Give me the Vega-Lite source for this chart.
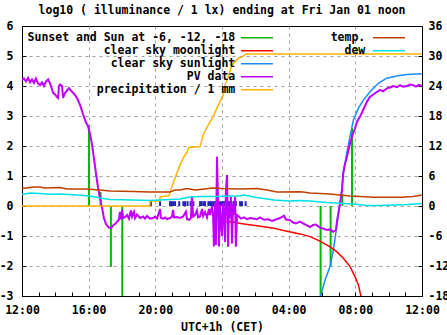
{
  "$schema": "https://vega.github.io/schema/vega-lite/v6.json",
  "width": 400,
  "height": 270,
  "autosize": {"type": "none"},
  "padding": {"left": 22, "top": 26, "right": 25, "bottom": 39},
  "background": "white",
  "title": {"text": "log10 ( illuminance / 1 lx) ending at Fri Jan 01 noon", "font": "DejaVu Sans Mono", "fontSize": 11.5, "fontWeight": "bold", "color": "black", "anchor": "middle", "baseline": "alphabetic", "offset": 9, "dy": 14},
  "datasets": {
    "illum": [
      {"t": "2020-12-31T12:00", "v": 4.2, "s": "PV data"},
      {"t": "2020-12-31T12:07", "v": 4.25, "s": "PV data"},
      {"t": "2020-12-31T12:14", "v": 4.15, "s": "PV data"},
      {"t": "2020-12-31T12:22", "v": 4.27, "s": "PV data"},
      {"t": "2020-12-31T12:29", "v": 4.12, "s": "PV data"},
      {"t": "2020-12-31T12:36", "v": 4.22, "s": "PV data"},
      {"t": "2020-12-31T12:43", "v": 4.1, "s": "PV data"},
      {"t": "2020-12-31T12:50", "v": 4.25, "s": "PV data"},
      {"t": "2020-12-31T12:58", "v": 4.08, "s": "PV data"},
      {"t": "2020-12-31T13:05", "v": 4.03, "s": "PV data"},
      {"t": "2020-12-31T13:12", "v": 4.12, "s": "PV data"},
      {"t": "2020-12-31T13:19", "v": 4.0, "s": "PV data"},
      {"t": "2020-12-31T13:26", "v": 4.15, "s": "PV data"},
      {"t": "2020-12-31T13:34", "v": 4.22, "s": "PV data"},
      {"t": "2020-12-31T13:41", "v": 4.08, "s": "PV data"},
      {"t": "2020-12-31T13:48", "v": 3.9, "s": "PV data"},
      {"t": "2020-12-31T13:52", "v": 3.77, "s": "PV data"},
      {"t": "2020-12-31T13:59", "v": 3.72, "s": "PV data"},
      {"t": "2020-12-31T14:06", "v": 3.63, "s": "PV data"},
      {"t": "2020-12-31T14:10", "v": 3.6, "s": "PV data"},
      {"t": "2020-12-31T14:13", "v": 4.0, "s": "PV data"},
      {"t": "2020-12-31T14:17", "v": 4.05, "s": "PV data"},
      {"t": "2020-12-31T14:24", "v": 4.0, "s": "PV data"},
      {"t": "2020-12-31T14:28", "v": 3.6, "s": "PV data"},
      {"t": "2020-12-31T14:35", "v": 3.77, "s": "PV data"},
      {"t": "2020-12-31T14:42", "v": 3.85, "s": "PV data"},
      {"t": "2020-12-31T14:49", "v": 3.93, "s": "PV data"},
      {"t": "2020-12-31T14:56", "v": 3.85, "s": "PV data"},
      {"t": "2020-12-31T15:04", "v": 3.77, "s": "PV data"},
      {"t": "2020-12-31T15:11", "v": 3.7, "s": "PV data"},
      {"t": "2020-12-31T15:18", "v": 3.6, "s": "PV data"},
      {"t": "2020-12-31T15:29", "v": 3.37, "s": "PV data"},
      {"t": "2020-12-31T15:40", "v": 3.05, "s": "PV data"},
      {"t": "2020-12-31T15:50", "v": 2.8, "s": "PV data"},
      {"t": "2020-12-31T15:58", "v": 2.65, "s": "PV data"},
      {"t": "2020-12-31T16:05", "v": 2.4, "s": "PV data"},
      {"t": "2020-12-31T16:12", "v": 2.05, "s": "PV data"},
      {"t": "2020-12-31T16:19", "v": 1.6, "s": "PV data"},
      {"t": "2020-12-31T16:26", "v": 1.1, "s": "PV data"},
      {"t": "2020-12-31T16:34", "v": 0.6, "s": "PV data"},
      {"t": "2020-12-31T16:41", "v": 0.25, "s": "PV data"},
      {"t": "2020-12-31T16:48", "v": -0.05, "s": "PV data"},
      {"t": "2020-12-31T16:55", "v": -0.4, "s": "PV data"},
      {"t": "2020-12-31T17:02", "v": -0.6, "s": "PV data"},
      {"t": "2020-12-31T17:13", "v": -0.72, "s": "PV data"},
      {"t": "2020-12-31T17:20", "v": -0.74, "s": "PV data"},
      {"t": "2020-12-31T17:28", "v": -0.65, "s": "PV data"},
      {"t": "2020-12-31T17:35", "v": -0.6, "s": "PV data"},
      {"t": "2020-12-31T17:42", "v": -0.53, "s": "PV data"},
      {"t": "2020-12-31T17:49", "v": -0.45, "s": "PV data"},
      {"t": "2020-12-31T17:53", "v": -0.2, "s": "PV data"},
      {"t": "2020-12-31T17:56", "v": -0.45, "s": "PV data"},
      {"t": "2020-12-31T18:00", "v": -0.13, "s": "PV data"},
      {"t": "2020-12-31T18:04", "v": -0.4, "s": "PV data"},
      {"t": "2020-12-31T18:11", "v": -0.37, "s": "PV data"},
      {"t": "2020-12-31T18:18", "v": -0.3, "s": "PV data"},
      {"t": "2020-12-31T18:25", "v": -0.42, "s": "PV data"},
      {"t": "2020-12-31T18:32", "v": -0.15, "s": "PV data"},
      {"t": "2020-12-31T18:36", "v": -0.35, "s": "PV data"},
      {"t": "2020-12-31T18:43", "v": -0.2, "s": "PV data"},
      {"t": "2020-12-31T18:47", "v": -0.4, "s": "PV data"},
      {"t": "2020-12-31T18:54", "v": -0.28, "s": "PV data"},
      {"t": "2020-12-31T19:05", "v": -0.4, "s": "PV data"},
      {"t": "2020-12-31T19:16", "v": -0.35, "s": "PV data"},
      {"t": "2020-12-31T19:23", "v": -0.42, "s": "PV data"},
      {"t": "2020-12-31T19:30", "v": -0.33, "s": "PV data"},
      {"t": "2020-12-31T19:41", "v": -0.42, "s": "PV data"},
      {"t": "2020-12-31T19:52", "v": -0.4, "s": "PV data"},
      {"t": "2020-12-31T19:59", "v": -0.35, "s": "PV data"},
      {"t": "2020-12-31T20:06", "v": -0.42, "s": "PV data"},
      {"t": "2020-12-31T20:17", "v": -0.1, "s": "PV data"},
      {"t": "2020-12-31T20:20", "v": -0.4, "s": "PV data"},
      {"t": "2020-12-31T20:28", "v": -0.42, "s": "PV data"},
      {"t": "2020-12-31T20:35", "v": -0.38, "s": "PV data"},
      {"t": "2020-12-31T20:42", "v": -0.44, "s": "PV data"},
      {"t": "2020-12-31T20:53", "v": -0.4, "s": "PV data"},
      {"t": "2020-12-31T21:00", "v": -0.35, "s": "PV data"},
      {"t": "2020-12-31T21:04", "v": -0.13, "s": "PV data"},
      {"t": "2020-12-31T21:07", "v": -0.38, "s": "PV data"},
      {"t": "2020-12-31T21:18", "v": -0.37, "s": "PV data"},
      {"t": "2020-12-31T21:29", "v": -0.4, "s": "PV data"},
      {"t": "2020-12-31T21:40", "v": -0.35, "s": "PV data"},
      {"t": "2020-12-31T21:50", "v": -0.19, "s": "PV data"},
      {"t": "2020-12-31T21:54", "v": -0.44, "s": "PV data"},
      {"t": "2020-12-31T22:01", "v": -0.46, "s": "PV data"},
      {"t": "2020-12-31T22:08", "v": -0.4, "s": "PV data"},
      {"t": "2020-12-31T22:12", "v": 0.32, "s": "PV data"},
      {"t": "2020-12-31T22:16", "v": -0.35, "s": "PV data"},
      {"t": "2020-12-31T22:23", "v": -0.3, "s": "PV data"},
      {"t": "2020-12-31T22:30", "v": -0.15, "s": "PV data"},
      {"t": "2020-12-31T22:34", "v": -0.38, "s": "PV data"},
      {"t": "2020-12-31T22:41", "v": -0.35, "s": "PV data"},
      {"t": "2020-12-31T22:48", "v": -0.1, "s": "PV data"},
      {"t": "2020-12-31T22:52", "v": -0.33, "s": "PV data"},
      {"t": "2020-12-31T22:59", "v": -0.2, "s": "PV data"},
      {"t": "2020-12-31T23:06", "v": -0.38, "s": "PV data"},
      {"t": "2020-12-31T23:13", "v": -0.1, "s": "PV data"},
      {"t": "2020-12-31T23:17", "v": -0.3, "s": "PV data"},
      {"t": "2020-12-31T23:24", "v": 0.0, "s": "PV data"},
      {"t": "2020-12-31T23:28", "v": -0.35, "s": "PV data"},
      {"t": "2020-12-31T23:31", "v": -1.35, "s": "PV data"},
      {"t": "2020-12-31T23:35", "v": 0.1, "s": "PV data"},
      {"t": "2020-12-31T23:38", "v": -1.3, "s": "PV data"},
      {"t": "2020-12-31T23:42", "v": 1.64, "s": "PV data"},
      {"t": "2020-12-31T23:46", "v": 0.0, "s": "PV data"},
      {"t": "2020-12-31T23:49", "v": -1.35, "s": "PV data"},
      {"t": "2020-12-31T23:53", "v": 0.05, "s": "PV data"},
      {"t": "2020-12-31T23:56", "v": -0.5, "s": "PV data"},
      {"t": "2021-01-01T00:00", "v": -1.0, "s": "PV data"},
      {"t": "2021-01-01T00:04", "v": 0.1, "s": "PV data"},
      {"t": "2021-01-01T00:07", "v": -0.2, "s": "PV data"},
      {"t": "2021-01-01T00:11", "v": -1.2, "s": "PV data"},
      {"t": "2021-01-01T00:14", "v": 0.5, "s": "PV data"},
      {"t": "2021-01-01T00:18", "v": 1.03, "s": "PV data"},
      {"t": "2021-01-01T00:22", "v": -1.36, "s": "PV data"},
      {"t": "2021-01-01T00:25", "v": 0.0, "s": "PV data"},
      {"t": "2021-01-01T00:29", "v": -0.4, "s": "PV data"},
      {"t": "2021-01-01T00:32", "v": 0.3, "s": "PV data"},
      {"t": "2021-01-01T00:36", "v": -1.25, "s": "PV data"},
      {"t": "2021-01-01T00:40", "v": 0.05, "s": "PV data"},
      {"t": "2021-01-01T00:43", "v": -0.3, "s": "PV data"},
      {"t": "2021-01-01T00:47", "v": 0.3, "s": "PV data"},
      {"t": "2021-01-01T00:50", "v": -1.36, "s": "PV data"},
      {"t": "2021-01-01T00:54", "v": -0.3, "s": "PV data"},
      {"t": "2021-01-01T01:01", "v": -0.35, "s": "PV data"},
      {"t": "2021-01-01T01:08", "v": -0.42, "s": "PV data"},
      {"t": "2021-01-01T01:19", "v": -0.38, "s": "PV data"},
      {"t": "2021-01-01T01:30", "v": -0.44, "s": "PV data"},
      {"t": "2021-01-01T01:41", "v": -0.4, "s": "PV data"},
      {"t": "2021-01-01T01:52", "v": -0.42, "s": "PV data"},
      {"t": "2021-01-01T02:06", "v": -0.44, "s": "PV data"},
      {"t": "2021-01-01T02:17", "v": -0.38, "s": "PV data"},
      {"t": "2021-01-01T02:31", "v": -0.46, "s": "PV data"},
      {"t": "2021-01-01T02:46", "v": -0.44, "s": "PV data"},
      {"t": "2021-01-01T03:00", "v": -0.5, "s": "PV data"},
      {"t": "2021-01-01T03:14", "v": -0.45, "s": "PV data"},
      {"t": "2021-01-01T03:29", "v": -0.4, "s": "PV data"},
      {"t": "2021-01-01T03:43", "v": -0.32, "s": "PV data"},
      {"t": "2021-01-01T03:50", "v": -0.45, "s": "PV data"},
      {"t": "2021-01-01T04:05", "v": -0.47, "s": "PV data"},
      {"t": "2021-01-01T04:16", "v": -0.55, "s": "PV data"},
      {"t": "2021-01-01T04:26", "v": -0.58, "s": "PV data"},
      {"t": "2021-01-01T04:41", "v": -0.52, "s": "PV data"},
      {"t": "2021-01-01T04:52", "v": -0.58, "s": "PV data"},
      {"t": "2021-01-01T05:02", "v": -0.63, "s": "PV data"},
      {"t": "2021-01-01T05:17", "v": -0.7, "s": "PV data"},
      {"t": "2021-01-01T05:28", "v": -0.63, "s": "PV data"},
      {"t": "2021-01-01T05:38", "v": -0.62, "s": "PV data"},
      {"t": "2021-01-01T05:53", "v": -0.72, "s": "PV data"},
      {"t": "2021-01-01T06:04", "v": -0.75, "s": "PV data"},
      {"t": "2021-01-01T06:18", "v": -0.8, "s": "PV data"},
      {"t": "2021-01-01T06:29", "v": -0.78, "s": "PV data"},
      {"t": "2021-01-01T06:40", "v": -0.86, "s": "PV data"},
      {"t": "2021-01-01T06:50", "v": -0.8, "s": "PV data"},
      {"t": "2021-01-01T06:54", "v": -0.5, "s": "PV data"},
      {"t": "2021-01-01T07:01", "v": -0.13, "s": "PV data"},
      {"t": "2021-01-01T07:07", "v": 0.2, "s": "PV data"},
      {"t": "2021-01-01T07:12", "v": 0.53, "s": "PV data"},
      {"t": "2021-01-01T07:16", "v": 1.09, "s": "PV data"},
      {"t": "2021-01-01T07:23", "v": 1.42, "s": "PV data"},
      {"t": "2021-01-01T07:30", "v": 1.64, "s": "PV data"},
      {"t": "2021-01-01T07:41", "v": 2.09, "s": "PV data"},
      {"t": "2021-01-01T07:52", "v": 2.42, "s": "PV data"},
      {"t": "2021-01-01T07:59", "v": 2.59, "s": "PV data"},
      {"t": "2021-01-01T08:06", "v": 2.81, "s": "PV data"},
      {"t": "2021-01-01T08:17", "v": 2.98, "s": "PV data"},
      {"t": "2021-01-01T08:28", "v": 3.2, "s": "PV data"},
      {"t": "2021-01-01T08:42", "v": 3.48, "s": "PV data"},
      {"t": "2021-01-01T08:53", "v": 3.64, "s": "PV data"},
      {"t": "2021-01-01T09:11", "v": 3.76, "s": "PV data"},
      {"t": "2021-01-01T09:29", "v": 3.87, "s": "PV data"},
      {"t": "2021-01-01T09:40", "v": 3.82, "s": "PV data"},
      {"t": "2021-01-01T09:54", "v": 3.92, "s": "PV data"},
      {"t": "2021-01-01T10:05", "v": 3.95, "s": "PV data"},
      {"t": "2021-01-01T10:16", "v": 4.0, "s": "PV data"},
      {"t": "2021-01-01T10:30", "v": 3.96, "s": "PV data"},
      {"t": "2021-01-01T10:41", "v": 4.03, "s": "PV data"},
      {"t": "2021-01-01T10:52", "v": 3.98, "s": "PV data"},
      {"t": "2021-01-01T11:06", "v": 4.0, "s": "PV data"},
      {"t": "2021-01-01T11:17", "v": 4.05, "s": "PV data"},
      {"t": "2021-01-01T11:28", "v": 4.03, "s": "PV data"},
      {"t": "2021-01-01T11:38", "v": 3.98, "s": "PV data"},
      {"t": "2021-01-01T11:49", "v": 4.04, "s": "PV data"},
      {"t": "2021-01-01T12:00", "v": 4.0, "s": "PV data"},

      {"t": "2021-01-01T05:55", "v": -3.0, "s": "clear sky sunlight"},
      {"t": "2021-01-01T06:11", "v": -2.47, "s": "clear sky sunlight"},
      {"t": "2021-01-01T06:29", "v": -2.02, "s": "clear sky sunlight"},
      {"t": "2021-01-01T06:41", "v": -1.47, "s": "clear sky sunlight"},
      {"t": "2021-01-01T06:53", "v": -0.69, "s": "clear sky sunlight"},
      {"t": "2021-01-01T07:03", "v": -0.02, "s": "clear sky sunlight"},
      {"t": "2021-01-01T07:11", "v": 0.53, "s": "clear sky sunlight"},
      {"t": "2021-01-01T07:19", "v": 1.2, "s": "clear sky sunlight"},
      {"t": "2021-01-01T07:29", "v": 1.76, "s": "clear sky sunlight"},
      {"t": "2021-01-01T07:41", "v": 2.31, "s": "clear sky sunlight"},
      {"t": "2021-01-01T07:53", "v": 2.87, "s": "clear sky sunlight"},
      {"t": "2021-01-01T08:11", "v": 3.26, "s": "clear sky sunlight"},
      {"t": "2021-01-01T08:29", "v": 3.53, "s": "clear sky sunlight"},
      {"t": "2021-01-01T08:53", "v": 3.81, "s": "clear sky sunlight"},
      {"t": "2021-01-01T09:23", "v": 4.09, "s": "clear sky sunlight"},
      {"t": "2021-01-01T09:53", "v": 4.26, "s": "clear sky sunlight"},
      {"t": "2021-01-01T10:29", "v": 4.33, "s": "clear sky sunlight"},
      {"t": "2021-01-01T11:05", "v": 4.38, "s": "clear sky sunlight"},
      {"t": "2021-01-01T12:00", "v": 4.41, "s": "clear sky sunlight"},

      {"t": "2020-12-31T23:53", "v": -0.48, "s": "clear sky moonlight"},
      {"t": "2021-01-01T00:07", "v": -0.5, "s": "clear sky moonlight"},
      {"t": "2021-01-01T00:43", "v": -0.54, "s": "clear sky moonlight"},
      {"t": "2021-01-01T01:19", "v": -0.6, "s": "clear sky moonlight"},
      {"t": "2021-01-01T02:06", "v": -0.66, "s": "clear sky moonlight"},
      {"t": "2021-01-01T03:07", "v": -0.74, "s": "clear sky moonlight"},
      {"t": "2021-01-01T03:54", "v": -0.84, "s": "clear sky moonlight"},
      {"t": "2021-01-01T04:41", "v": -0.93, "s": "clear sky moonlight"},
      {"t": "2021-01-01T05:17", "v": -1.02, "s": "clear sky moonlight"},
      {"t": "2021-01-01T05:53", "v": -1.17, "s": "clear sky moonlight"},
      {"t": "2021-01-01T06:29", "v": -1.36, "s": "clear sky moonlight"},
      {"t": "2021-01-01T06:53", "v": -1.52, "s": "clear sky moonlight"},
      {"t": "2021-01-01T07:17", "v": -1.74, "s": "clear sky moonlight"},
      {"t": "2021-01-01T07:41", "v": -2.02, "s": "clear sky moonlight"},
      {"t": "2021-01-01T07:59", "v": -2.36, "s": "clear sky moonlight"},
      {"t": "2021-01-01T08:11", "v": -2.63, "s": "clear sky moonlight"},
      {"t": "2021-01-01T08:20", "v": -3.0, "s": "clear sky moonlight"},

      {"t": "2020-12-31T12:00", "v": 0.0, "s": "precipitation / 1 mm"},
      {"t": "2020-12-31T19:40", "v": 0.0, "s": "precipitation / 1 mm"},
      {"t": "2020-12-31T19:41", "v": 0.17, "s": "precipitation / 1 mm"},
      {"t": "2020-12-31T20:16", "v": 0.17, "s": "precipitation / 1 mm"},
      {"t": "2020-12-31T20:17", "v": 0.3, "s": "precipitation / 1 mm"},
      {"t": "2020-12-31T20:50", "v": 0.35, "s": "precipitation / 1 mm"},
      {"t": "2020-12-31T20:53", "v": 0.48, "s": "precipitation / 1 mm"},
      {"t": "2020-12-31T21:11", "v": 0.93, "s": "precipitation / 1 mm"},
      {"t": "2020-12-31T21:29", "v": 1.37, "s": "precipitation / 1 mm"},
      {"t": "2020-12-31T21:40", "v": 1.6, "s": "precipitation / 1 mm"},
      {"t": "2020-12-31T21:54", "v": 1.8, "s": "precipitation / 1 mm"},
      {"t": "2020-12-31T22:01", "v": 1.95, "s": "precipitation / 1 mm"},
      {"t": "2020-12-31T22:41", "v": 1.98, "s": "precipitation / 1 mm"},
      {"t": "2020-12-31T22:52", "v": 2.37, "s": "precipitation / 1 mm"},
      {"t": "2020-12-31T23:10", "v": 2.7, "s": "precipitation / 1 mm"},
      {"t": "2020-12-31T23:28", "v": 2.98, "s": "precipitation / 1 mm"},
      {"t": "2020-12-31T23:42", "v": 3.27, "s": "precipitation / 1 mm"},
      {"t": "2020-12-31T23:53", "v": 3.48, "s": "precipitation / 1 mm"},
      {"t": "2021-01-01T00:04", "v": 3.7, "s": "precipitation / 1 mm"},
      {"t": "2021-01-01T00:11", "v": 4.03, "s": "precipitation / 1 mm"},
      {"t": "2021-01-01T00:22", "v": 4.31, "s": "precipitation / 1 mm"},
      {"t": "2021-01-01T00:36", "v": 4.7, "s": "precipitation / 1 mm"},
      {"t": "2021-01-01T00:47", "v": 4.81, "s": "precipitation / 1 mm"},
      {"t": "2021-01-01T00:58", "v": 4.92, "s": "precipitation / 1 mm"},
      {"t": "2021-01-01T01:14", "v": 4.98, "s": "precipitation / 1 mm"},
      {"t": "2021-01-01T01:26", "v": 5.07, "s": "precipitation / 1 mm"},
      {"t": "2021-01-01T12:00", "v": 5.07, "s": "precipitation / 1 mm"}
    ],
    "sun": [
      {"t": "2020-12-31T16:01", "v": 2.7, "s": "Sunset and Sun at -6, -12, -18"},
      {"t": "2020-12-31T16:43", "v": 0.47, "s": "Sunset and Sun at -6, -12, -18"},
      {"t": "2020-12-31T17:20", "v": -2.03, "s": "Sunset and Sun at -6, -12, -18"},
      {"t": "2020-12-31T18:01", "v": -3.0, "s": "Sunset and Sun at -6, -12, -18"},
      {"t": "2021-01-01T05:55", "v": -3.0, "s": "Sunset and Sun at -6, -12, -18"},
      {"t": "2021-01-01T06:31", "v": -2.0, "s": "Sunset and Sun at -6, -12, -18"},
      {"t": "2021-01-01T07:13", "v": 0.4, "s": "Sunset and Sun at -6, -12, -18"},
      {"t": "2021-01-01T07:48", "v": 2.6, "s": "Sunset and Sun at -6, -12, -18"}
    ],
    "bars": [
      {"t": "2020-12-31T19:44", "v": 0.16}, {"t": "2020-12-31T20:17", "v": 0.16},
      {"t": "2020-12-31T20:53", "v": 0.16}, {"t": "2020-12-31T20:58", "v": 0.16},
      {"t": "2020-12-31T21:04", "v": 0.16}, {"t": "2020-12-31T21:11", "v": 0.16},
      {"t": "2020-12-31T21:26", "v": 0.16}, {"t": "2020-12-31T21:41", "v": 0.16},
      {"t": "2020-12-31T21:47", "v": 0.16}, {"t": "2020-12-31T21:56", "v": 0.16},
      {"t": "2020-12-31T22:07", "v": 0.16}, {"t": "2020-12-31T22:17", "v": 0.16},
      {"t": "2020-12-31T22:41", "v": 0.16}, {"t": "2020-12-31T22:46", "v": 0.16},
      {"t": "2020-12-31T22:53", "v": 0.16}, {"t": "2020-12-31T22:59", "v": 0.16},
      {"t": "2020-12-31T23:11", "v": 0.16}, {"t": "2020-12-31T23:17", "v": 0.16},
      {"t": "2020-12-31T23:23", "v": 0.16}, {"t": "2020-12-31T23:29", "v": 0.16},
      {"t": "2020-12-31T23:35", "v": 0.16}, {"t": "2020-12-31T23:41", "v": 0.16},
      {"t": "2020-12-31T23:47", "v": 0.16}, {"t": "2020-12-31T23:53", "v": 0.16},
      {"t": "2021-01-01T00:00", "v": 0.16}, {"t": "2021-01-01T00:05", "v": 0.16},
      {"t": "2021-01-01T00:11", "v": 0.16}, {"t": "2021-01-01T00:18", "v": 0.16},
      {"t": "2021-01-01T00:25", "v": 0.16}, {"t": "2021-01-01T00:32", "v": 0.16},
      {"t": "2021-01-01T00:41", "v": 0.16}, {"t": "2021-01-01T00:50", "v": 0.16},
      {"t": "2021-01-01T01:05", "v": 0.16}, {"t": "2021-01-01T01:12", "v": 0.16},
      {"t": "2021-01-01T01:25", "v": 0.16}
    ],
    "temps": [
      {"t": "2020-12-31T12:00", "c": 3.5, "s": "temp."},
      {"t": "2020-12-31T12:43", "c": 3.8, "s": "temp."},
      {"t": "2020-12-31T13:05", "c": 3.8, "s": "temp."},
      {"t": "2020-12-31T13:20", "c": 3.6, "s": "temp."},
      {"t": "2020-12-31T14:17", "c": 3.7, "s": "temp."},
      {"t": "2020-12-31T14:42", "c": 3.4, "s": "temp."},
      {"t": "2020-12-31T15:50", "c": 3.4, "s": "temp."},
      {"t": "2020-12-31T16:41", "c": 3.2, "s": "temp."},
      {"t": "2020-12-31T17:17", "c": 3.0, "s": "temp."},
      {"t": "2020-12-31T18:40", "c": 2.9, "s": "temp."},
      {"t": "2020-12-31T19:41", "c": 2.8, "s": "temp."},
      {"t": "2020-12-31T20:53", "c": 2.8, "s": "temp."},
      {"t": "2020-12-31T21:11", "c": 3.2, "s": "temp."},
      {"t": "2020-12-31T21:29", "c": 3.2, "s": "temp."},
      {"t": "2020-12-31T21:54", "c": 3.5, "s": "temp."},
      {"t": "2020-12-31T22:23", "c": 3.2, "s": "temp."},
      {"t": "2020-12-31T22:41", "c": 3.3, "s": "temp."},
      {"t": "2020-12-31T23:28", "c": 3.6, "s": "temp."},
      {"t": "2021-01-01T00:00", "c": 3.5, "s": "temp."},
      {"t": "2021-01-01T01:05", "c": 3.4, "s": "temp."},
      {"t": "2021-01-01T02:06", "c": 3.5, "s": "temp."},
      {"t": "2021-01-01T02:42", "c": 3.2, "s": "temp."},
      {"t": "2021-01-01T03:18", "c": 2.8, "s": "temp."},
      {"t": "2021-01-01T04:44", "c": 2.85, "s": "temp."},
      {"t": "2021-01-01T05:17", "c": 2.6, "s": "temp."},
      {"t": "2021-01-01T05:53", "c": 2.5, "s": "temp."},
      {"t": "2021-01-01T06:29", "c": 2.4, "s": "temp."},
      {"t": "2021-01-01T07:05", "c": 2.2, "s": "temp."},
      {"t": "2021-01-01T07:41", "c": 2.0, "s": "temp."},
      {"t": "2021-01-01T08:17", "c": 1.9, "s": "temp."},
      {"t": "2021-01-01T09:04", "c": 1.75, "s": "temp."},
      {"t": "2021-01-01T09:54", "c": 1.75, "s": "temp."},
      {"t": "2021-01-01T10:41", "c": 1.75, "s": "temp."},
      {"t": "2021-01-01T11:28", "c": 1.9, "s": "temp."},
      {"t": "2021-01-01T12:00", "c": 2.2, "s": "temp."},

      {"t": "2020-12-31T12:00", "c": 2.3, "s": "dew"},
      {"t": "2020-12-31T12:29", "c": 2.6, "s": "dew"},
      {"t": "2020-12-31T13:05", "c": 2.5, "s": "dew"},
      {"t": "2020-12-31T13:41", "c": 2.35, "s": "dew"},
      {"t": "2020-12-31T14:17", "c": 2.4, "s": "dew"},
      {"t": "2020-12-31T15:18", "c": 2.2, "s": "dew"},
      {"t": "2020-12-31T16:05", "c": 2.0, "s": "dew"},
      {"t": "2020-12-31T16:41", "c": 1.6, "s": "dew"},
      {"t": "2020-12-31T17:17", "c": 1.3, "s": "dew"},
      {"t": "2020-12-31T18:40", "c": 1.2, "s": "dew"},
      {"t": "2020-12-31T19:41", "c": 1.1, "s": "dew"},
      {"t": "2020-12-31T20:17", "c": 1.2, "s": "dew"},
      {"t": "2020-12-31T21:29", "c": 1.4, "s": "dew"},
      {"t": "2020-12-31T22:05", "c": 1.8, "s": "dew"},
      {"t": "2020-12-31T22:41", "c": 1.9, "s": "dew"},
      {"t": "2020-12-31T23:42", "c": 1.9, "s": "dew"},
      {"t": "2021-01-01T00:29", "c": 2.0, "s": "dew"},
      {"t": "2021-01-01T01:05", "c": 2.0, "s": "dew"},
      {"t": "2021-01-01T01:19", "c": 2.2, "s": "dew"},
      {"t": "2021-01-01T02:06", "c": 1.7, "s": "dew"},
      {"t": "2021-01-01T03:07", "c": 1.2, "s": "dew"},
      {"t": "2021-01-01T04:05", "c": 1.0, "s": "dew"},
      {"t": "2021-01-01T04:41", "c": 1.1, "s": "dew"},
      {"t": "2021-01-01T05:17", "c": 1.0, "s": "dew"},
      {"t": "2021-01-01T06:18", "c": 0.7, "s": "dew"},
      {"t": "2021-01-01T07:05", "c": 0.55, "s": "dew"},
      {"t": "2021-01-01T07:52", "c": 0.4, "s": "dew"},
      {"t": "2021-01-01T08:42", "c": 0.1, "s": "dew"},
      {"t": "2021-01-01T09:29", "c": 0.1, "s": "dew"},
      {"t": "2021-01-01T10:16", "c": 0.2, "s": "dew"},
      {"t": "2021-01-01T11:10", "c": 0.3, "s": "dew"},
      {"t": "2021-01-01T12:00", "c": 0.5, "s": "dew"}
    ]
  },
  "encoding": {
    "x": {
      "field": "t",
      "type": "temporal",
      "scale": {"domain": [{"year": 2020, "month": 12, "date": 31, "hours": 12}, {"year": 2021, "month": 1, "date": 1, "hours": 12}]},
      "axis": {
        "title": "UTC+1h (CET)",
        "values": [
          {"year": 2020, "month": 12, "date": 31, "hours": 12}, {"year": 2020, "month": 12, "date": 31, "hours": 13},
          {"year": 2020, "month": 12, "date": 31, "hours": 14}, {"year": 2020, "month": 12, "date": 31, "hours": 15},
          {"year": 2020, "month": 12, "date": 31, "hours": 16}, {"year": 2020, "month": 12, "date": 31, "hours": 17},
          {"year": 2020, "month": 12, "date": 31, "hours": 18}, {"year": 2020, "month": 12, "date": 31, "hours": 19},
          {"year": 2020, "month": 12, "date": 31, "hours": 20}, {"year": 2020, "month": 12, "date": 31, "hours": 21},
          {"year": 2020, "month": 12, "date": 31, "hours": 22}, {"year": 2020, "month": 12, "date": 31, "hours": 23},
          {"year": 2021, "month": 1, "date": 1, "hours": 0}, {"year": 2021, "month": 1, "date": 1, "hours": 1},
          {"year": 2021, "month": 1, "date": 1, "hours": 2}, {"year": 2021, "month": 1, "date": 1, "hours": 3},
          {"year": 2021, "month": 1, "date": 1, "hours": 4}, {"year": 2021, "month": 1, "date": 1, "hours": 5},
          {"year": 2021, "month": 1, "date": 1, "hours": 6}, {"year": 2021, "month": 1, "date": 1, "hours": 7},
          {"year": 2021, "month": 1, "date": 1, "hours": 8}, {"year": 2021, "month": 1, "date": 1, "hours": 9},
          {"year": 2021, "month": 1, "date": 1, "hours": 10}, {"year": 2021, "month": 1, "date": 1, "hours": 11},
          {"year": 2021, "month": 1, "date": 1, "hours": 12}
        ],
        "labelExpr": "hours(datum.value) % 4 == 0 ? timeFormat(datum.value, '%H:%M') : ''",
        "labelFlush": false,
        "labelOverlap": false,
        "tickSize": -4,
        "labelPadding": 12,
        "grid": true,
        "gridOpacity": {"condition": {"test": "hours(datum.value) % 4 == 0 && hours(datum.value) != 12", "value": 1}, "value": 0},
        "titlePadding": 6
      }
    }
  },
  "layer": [
    {
      "encoding": {
        "y": {
          "field": "v",
          "type": "quantitative",
          "scale": {"domain": [-3, 6], "nice": false, "zero": false},
          "axis": {
            "orient": "left",
            "values": [-3, -2, -1, 0, 1, 2, 3, 4, 5, 6],
            "title": null,
            "tickSize": -4,
            "labelPadding": 13,
            "labelExpr": "'' + datum.value",
            "grid": true,
            "gridOpacity": {"condition": {"test": "datum.value > -3 && datum.value < 6", "value": 1}, "value": 0}
          }
        },
        "color": {
          "field": "s",
          "type": "nominal",
          "scale": {
            "domain": ["Sunset and Sun at -6, -12, -18", "clear sky moonlight", "clear sky sunlight", "PV data", "precipitation / 1 mm"],
            "range": ["#00b800", "#ff0000", "#1a8cff", "#c000ff", "#ffb400"]
          },
          "legend": {"title": null, "orient": "none", "legendX": 223, "legendY": 6, "symbolOffset": 6.25, "labelOffset": -27.5}
        }
      },
      "layer": [
        {"data": {"name": "bars"}, "mark": {"type": "rule", "strokeWidth": 2}, "encoding": {"y2": {"datum": 0}, "color": {"value": "#2323b8"}}},
        {"data": {"name": "sun"}, "mark": {"type": "rule", "strokeWidth": 2}, "encoding": {"y2": {"datum": 0}}},
        {"data": {"name": "illum"}, "transform": [{"filter": {"field": "s", "oneOf": ["clear sky moonlight", "clear sky sunlight"]}}], "mark": {"type": "line", "strokeWidth": 1.5, "clip": true}, "encoding": {}},
        {"data": {"name": "illum"}, "transform": [{"filter": {"field": "s", "equal": "PV data"}}], "mark": {"type": "line", "strokeWidth": 2, "clip": true}, "encoding": {}},
        {"data": {"name": "illum"}, "transform": [{"filter": {"field": "s", "equal": "precipitation / 1 mm"}}], "mark": {"type": "line", "strokeWidth": 1.5, "clip": true}, "encoding": {}}
      ]
    },
    {
      "data": {"name": "temps"},
      "mark": {"type": "line", "strokeWidth": 1.5},
      "encoding": {
        "y": {
          "field": "c",
          "type": "quantitative",
          "scale": {"domain": [-18, 36], "nice": false, "zero": false},
          "axis": {
            "orient": "right",
            "values": [-18, -12, -6, 0, 6, 12, 18, 24, 30, 36],
            "title": null,
            "tickSize": -4,
            "labelPadding": 10,
            "grid": false,
            "labelExpr": "(datum.value >= 0 ? '\u00a0' : '') + datum.value"
          }
        },
        "color": {
          "field": "s",
          "type": "nominal",
          "scale": {"domain": ["temp.", "dew"], "range": ["#c04000", "#00e0e8"]},
          "legend": {"title": null, "orient": "none", "legendX": 355, "legendY": 6, "symbolOffset": 6.25, "labelOffset": -29.5}
        }
      }
    }
  ],
  "resolve": {"scale": {"y": "independent", "color": "independent"}},
  "config": {
    "view": {"stroke": "#000000", "strokeWidth": 1},
    "font": "DejaVu Sans Mono",
    "axis": {
      "labelFont": "DejaVu Sans Mono", "labelFontSize": 11.5, "labelFontWeight": "bold", "labelColor": "#000000",
      "titleFont": "DejaVu Sans Mono", "titleFontSize": 11.5, "titleFontWeight": "bold", "titleColor": "#000000",
      "domainColor": "#000000", "tickColor": "#000000", "gridColor": "#a0a0a0", "gridDash": [3, 4], "gridWidth": 1
    },
    "legend": {
      "labelFont": "DejaVu Sans Mono", "labelFontSize": 11.5, "labelFontWeight": "bold", "labelColor": "#000000",
      "labelLimit": 400, "symbolType": "M-4,0H4", "symbolSize": 64, "symbolStrokeWidth": 1.5,
      "labelAlign": "right", "rowPadding": 0, "padding": 0
    }
  }
}
